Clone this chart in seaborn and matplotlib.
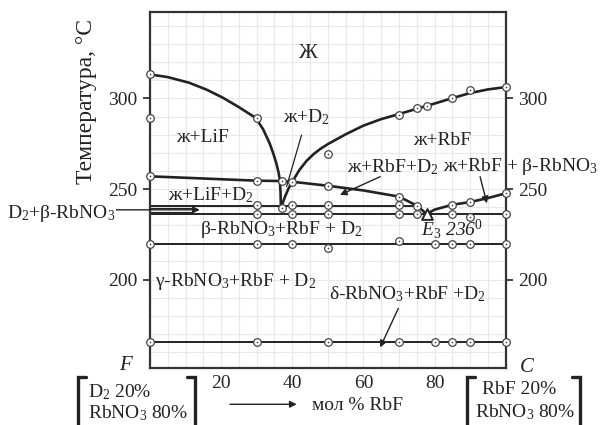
import numpy as np
import pandas as pd
import matplotlib.pyplot as plt
import seaborn as sns
from matplotlib.lines import Line2D

# composition (mol % RbF) and temperature (deg C)
lif_liq_x = [0, 5, 11, 16, 20.5, 25, 29.7, 31.8, 33.6, 34.6, 35.5, 36.1, 36.5, 36.7, 36.8]
lif_liq_t = [313.3, 311.8, 308.7, 304.8, 300.4, 295.2, 289.3, 283, 275.4, 270, 264.3, 259.5, 255, 248, 240]

rbf_liq_x = [36.9, 38, 39, 40, 42, 44, 46, 48, 50, 55, 60, 65, 70, 75, 78, 85, 90, 95, 100]
rbf_liq_t = [240, 246, 250.5, 254, 260.5, 265.5, 269.3, 272.3, 274.8, 280.2, 285, 288.6, 291.4, 294.3, 296, 300.2, 303, 305, 306.3]

eut_line_x = [0, 30, 37, 40, 50, 60, 70, 75, 77.8]
eut_line_t = [257, 254.6, 254.4, 254, 251.8, 249.2, 245.8, 240.8, 236.2]

beta_liq_x = [77.8, 80, 85, 90, 95, 100]
beta_liq_t = [236.2, 238.6, 241.3, 242.8, 245, 247.6]

# horizontal invariant lines: temperature, start, end
iso_t = [240.7, 236.3, 219.8, 165.6]
iso_x0 = [0, 0, 0, 0]
iso_x1 = [75, 100, 100, 100]

# experimental points
pt_x = [0, 30, 0, 50,
        70, 75, 78, 85, 90, 100,
        0, 30, 37, 40, 50, 70, 75,
        30, 40, 50, 70, 37,
        30, 40, 50, 70, 75, 85, 90, 100,
        85, 90, 100,
        0, 30, 40, 50, 70, 80, 85, 90, 100,
        0, 30, 50, 70, 80, 85, 90, 100]
pt_t = [313.3, 289.3, 289.4, 269.4,
        290.6, 295, 295.7, 300.4, 304.8, 306.3,
        257, 254.6, 254.4, 254, 251.8, 245.8, 240.8,
        240.9, 240.9, 240.9, 240.9, 239.5,
        236.4, 236.4, 236.4, 236.4, 236.4, 236.4, 234.8, 236.4,
        241.3, 242.6, 247.6,
        219.8, 219.8, 219.8, 217.6, 221.5, 219.8, 219.8, 219.8, 219.8,
        165.6, 165.6, 165.6, 165.6, 165.6, 165.6, 165.6, 165.6]

eut_x = [77.8]
eut_t = [236.2]

sns.set_style('white')
plt.rcParams['font.family'] = ['Liberation Serif', 'DejaVu Serif']
plt.rcParams['mathtext.fontset'] = 'custom'
plt.rcParams['mathtext.rm'] = 'Liberation Serif'
plt.rcParams['mathtext.it'] = 'Liberation Serif:italic'

W, H = 603, 425
fig = plt.figure(figsize=(W / 100, H / 100), dpi=100)
ax = fig.add_axes([150 / W, (H - 367.7) / H, (505.7 - 150) / W, (367.7 - 12.3) / H])

ink = '#222222'
fs = 14

def px(x, y):
    # figure pixel -> figure fraction
    return (x / W, 1 - y / H)

# curves
for xs, ts in [(lif_liq_x, lif_liq_t), (rbf_liq_x, rbf_liq_t),
               (eut_line_x, eut_line_t), (beta_liq_x, beta_liq_t)]:
    sns.lineplot(x=xs, y=ts, sort=False, estimator=None, color=ink, lw=1.9, ax=ax)

for t, x0, x1 in zip(iso_t, iso_x0, iso_x1):
    sns.lineplot(x=[x0, x1], y=[t, t], sort=False, estimator=None, color=ink, lw=1.4, ax=ax)

pts = pd.DataFrame({'x': pt_x, 't': pt_t})
sns.scatterplot(data=pts, x='x', y='t', marker='o', s=30, facecolor='white',
                edgecolor='#444444', linewidth=0.9, zorder=5, clip_on=False, ax=ax)
sns.scatterplot(data=pts, x='x', y='t', marker='o', s=1.5, color='#444444',
                linewidth=0, zorder=6, clip_on=False, ax=ax)
sns.scatterplot(x=eut_x, y=eut_t, marker='^', s=60, facecolor='white',
                edgecolor=ink, linewidth=1.4, zorder=7, ax=ax)

ax.set_xlim(0, 100)
ax.set_ylim(151.3, 347.6)

# grid
ax.set_xticks([20, 40, 60, 80])
ax.set_yticks([200, 250, 300])
ax.set_xticks(np.arange(0, 101, 5), minor=True)
ax.set_yticks(np.arange(160, 341, 10), minor=True)
ax.grid(which='both', color='#e8e8e8', lw=0.8)
ax.set_axisbelow(True)
ax.tick_params(which='minor', length=0)
ax.tick_params(axis='x', which='major', direction='in', length=7, width=1.2,
               color=ink, labelsize=fs, pad=5)
ax.tick_params(axis='y', which='major', direction='out', length=5, width=1.2,
               color=ink, labelsize=fs, left=True, right=True,
               labelleft=True, labelright=True, pad=4)
for s in ax.spines.values():
    s.set_color('#333333')
    s.set_linewidth(1.6)
ax.set_xlabel('')
ax.set_ylabel('')

# region labels
ax.text(44.4, 325, 'Ж', fontsize=fs + 1, ha='center', va='center', color=ink)
ax.text(14.8, 278.5, 'ж+LiF', fontsize=fs, ha='center', va='center', color=ink)
ax.text(44, 289.5, 'ж+D$_2$', fontsize=fs, ha='center', va='center', color=ink)
ax.text(82, 277, 'ж+RbF', fontsize=fs, ha='center', va='center', color=ink)
ax.text(68.2, 262.3, 'ж+RbF+D$_2$', fontsize=fs, ha='center', va='center', color=ink)
ax.text(82.4, 262.3, 'ж+RbF + β-RbNO$_3$', fontsize=fs, ha='left', va='center',
        color=ink, clip_on=False)
ax.text(17.1, 246.7, 'ж+LiF+D$_2$', fontsize=fs, ha='center', va='center', color=ink)
ax.text(-9.8, 236.7, 'D$_2$+β-RbNO$_3$', fontsize=fs, ha='right', va='center',
        color=ink, clip_on=False)
ax.text(36.8, 227.5, 'β-RbNO$_3$+RbF + D$_2$', fontsize=fs, ha='center', va='center', color=ink)
ax.text(84.8, 227.8, '$E_3$ 236$^0$', fontsize=fs, ha='center', va='center',
        style='italic', color=ink)
ax.text(1.4, 199, 'γ-RbNO$_3$+RbF + D$_2$', fontsize=fs, ha='left', va='center', color=ink)
ax.text(72.4, 191.7, 'δ-RbNO$_3$+RbF +D$_2$', fontsize=fs, ha='center', va='center', color=ink)

# pointers
arrow = dict(arrowstyle='-|>', lw=1.0, color=ink, mutation_scale=10, shrinkA=0, shrinkB=0)
ax.annotate('', xy=(53.4, 246.7), xytext=(64.7, 256.8), arrowprops=arrow)
ax.annotate('', xy=(94.7, 242.1), xytext=(92.8, 256.8), arrowprops=arrow)
ax.annotate('', xy=(64.7, 162.5), xytext=(69.8, 184), arrowprops=arrow)
ax.annotate('', xy=(38.4, 251.3), xytext=(42.6, 279.8),
            arrowprops=dict(arrowstyle='-', lw=0.9, color=ink, shrinkA=0, shrinkB=0))
ax.annotate('', xy=(14, 238.5), xytext=(-9.5, 238.5), annotation_clip=False,
            arrowprops=dict(arrowstyle='-|>', lw=1.0, color=ink, mutation_scale=10,
                            shrinkA=0, shrinkB=0))
# hollow shaft of the D2+beta-RbNO3 pointer
ax.plot([0, 12], [239.5, 239.5], color=ink, lw=0.8)
ax.plot([0, 12], [237.5, 237.5], color=ink, lw=0.8)

# y label
fig.text(*px(86.5, 102), 'Температура, °C', rotation=90, fontsize=17,
         ha='center', va='center', color=ink)

# corner labels
fig.text(*px(125, 365), 'F', fontsize=fs + 1, style='italic', ha='center', va='center', color=ink)
fig.text(*px(527, 367), 'C', fontsize=fs + 1, style='italic', ha='center', va='center', color=ink)

# composition brackets
def draw_bracket(xp, dx):
    fig.add_artist(Line2D([(xp + dx) / W, xp / W, xp / W], [1 - 377 / H, 1 - 377 / H, 0],
                          transform=fig.transFigure, color=ink, lw=2.4,
                          solid_joinstyle='miter'))

draw_bracket(78, 8)
draw_bracket(195, -8)
draw_bracket(467, 8)
draw_bracket(580, -8)

fig.text(*px(88, 391.7), 'D$_2$ 20%', fontsize=fs, ha='left', va='center', color=ink)
fig.text(*px(88, 413), 'RbNO$_3$ 80%', fontsize=fs, ha='left', va='center', color=ink)
fig.text(*px(519, 390), 'RbF 20%', fontsize=fs, ha='center', va='center', color=ink)
fig.text(*px(524.7, 411.7), 'RbNO$_3$ 80%', fontsize=fs, ha='center', va='center', color=ink)

ax.annotate('', xy=px(296.7, 404.3), xytext=px(230, 404.3),
            xycoords='figure fraction', textcoords='figure fraction',
            arrowprops=dict(arrowstyle='-|>', lw=1.0, color=ink, mutation_scale=10,
                            shrinkA=0, shrinkB=0))
fig.text(*px(357.5, 405), 'мол % RbF', fontsize=fs, ha='center', va='center', color=ink)

fig.savefig('out.png', dpi=100)
